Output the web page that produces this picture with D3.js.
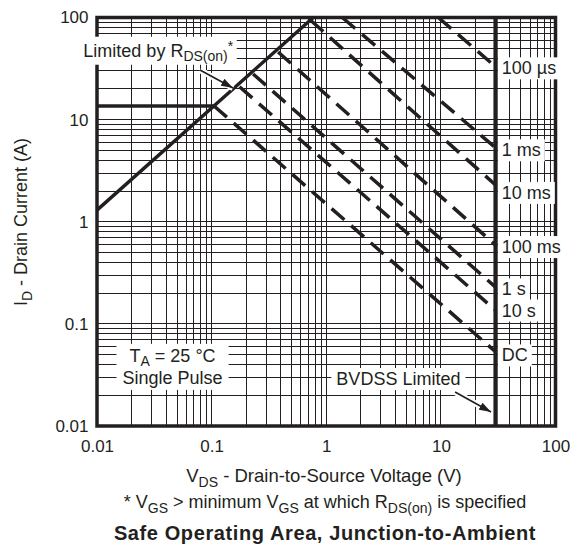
<!DOCTYPE html>
<html>
<head>
<meta charset="utf-8">
<script src="https://d3js.org/d3.v7.min.js"></script>
<style>
  body { margin: 0; background: #fff; }
  text { font-family: "Liberation Sans", Arial, Helvetica, sans-serif; fill: #231f20; }
</style>
</head>
<body>
<svg id="soa" width="571" height="546"></svg>
<script>
// axis ticks
const xTicks = [0.01, 0.1, 1, 10, 100];
const yTicks = [0.01, 0.1, 1, 10, 100];
const xTickLabels = ["0.01", "0.1", "1", "10", "100"];
const yTickLabels = ["0.01", "0.1", "1", "10", "100"];

// limits
const rdsV = [0.01, 0.77];        // Rds(on) limit line
const rdsI = [1.3, 100];
const currentV = [0.01, 0.105];   // package current limit
const currentI = [13.6, 13.6];
const bvdss = 30;

// single pulse curves: start on Rds(on) line (or top), end on BVDSS line
const pulseNames = ["100 µs", "1 ms", "10 ms", "100 ms", "1 s", "10 s", "DC"];
const pulseStartV = [9.5, 1.38, 0.73, 0.38, 0.23, 0.175, 0.105];
const pulseStartI = [100, 100, 94, 46, 28, 21, 13.6];
const pulseEndI = [33, 5.3, 2.29, 0.59, 0.229, 0.136, 0.0533];
const pulseLabelI = [32, 5.04, 1.93, 0.569, 0.219, 0.136, 0.0494];
const pulseLabelV = 34;

const ink = "#231f20";
const svg = d3.select("#soa");

const x = d3.scaleLog().domain([0.01, 100]).range([97, 555.5]);
const y = d3.scaleLog().domain([0.01, 100]).range([426, 17.5]);

// grid
const grid = svg.append("g").attr("shape-rendering", "crispEdges");
grid.selectAll("line.v").data(x.ticks()).join("line")
    .attr("class", "v")
    .attr("x1", d => x(d)).attr("x2", d => x(d))
    .attr("y1", y(0.01)).attr("y2", y(100))
    .attr("stroke", ink).attr("stroke-width", 1);
grid.selectAll("line.h").data(y.ticks()).join("line")
    .attr("class", "h")
    .attr("y1", d => y(d)).attr("y2", d => y(d))
    .attr("x1", x(0.01)).attr("x2", x(100))
    .attr("stroke", ink).attr("stroke-width", 1);

// frame
svg.append("rect")
    .attr("x", x(0.01)).attr("y", y(100))
    .attr("width", x(100) - x(0.01)).attr("height", y(0.01) - y(100))
    .attr("fill", "none").attr("stroke", ink).attr("stroke-width", 3.5);

// axes
svg.append("g")
    .attr("transform", `translate(${x(0.01)},0)`)
    .call(d3.axisLeft(y).tickValues(yTicks).tickSize(0).tickPadding(8.5)
        .tickFormat((d, i) => yTickLabels[i]))
    .call(g => g.select(".domain").remove())
    .selectAll("text").attr("font-size", 17).attr("fill", ink)
    .attr("font-family", '"Liberation Sans", Arial, sans-serif');

svg.append("g")
    .attr("transform", `translate(0,${y(0.01)})`)
    .call(d3.axisBottom(x).tickValues(xTicks).tickSize(0).tickPadding(13.5)
        .tickFormat((d, i) => xTickLabels[i]))
    .call(g => g.select(".domain").remove())
    .selectAll("text").attr("font-size", 17).attr("fill", ink)
    .attr("font-family", '"Liberation Sans", Arial, sans-serif');

// text with sub / superscripts
function richText(parent, segs, size, subShift) {
    const t = parent.append("text").attr("font-size", size);
    let shift = 0;
    segs.forEach(([s, kind]) => {
        const target = kind === "sub" ? (subShift || 5) : kind === "sup" ? -6 : 0;
        t.append("tspan")
            .attr("dy", target - shift)
            .attr("font-size", kind ? Math.round(size * 0.78) : size)
            .text(s);
        shift = target;
    });
    return t;
}

// label with a white box behind it
function boxedLabel(lines, v, i, anchor, dyFirst, padX, padY, gap) {
    const g = svg.append("g").attr("transform", `translate(${x(v)},${y(i)})`);
    lines.forEach((segs, k) => {
        richText(g, segs, 18, 4).attr("y", dyFirst + k * (gap || 21)).attr("text-anchor", anchor);
    });
    const b = g.node().getBBox();
    g.insert("rect", ":first-child")
        .attr("x", b.x - padX).attr("y", b.y - padY)
        .attr("width", b.width + 2 * padX).attr("height", b.height + 2 * padY)
        .attr("fill", "#fff");
    return g;
}

boxedLabel([[["Limited by R", null], ["DS(on)", "sub"], ["*", "sup"]]], 0.0076, 41.3, "start", 0, 3, 1);
boxedLabel([[["T", null], ["A", "sub"], [" = 25 °C", null]], [["Single Pulse", null]]],
    0.0456, 0.042, "middle", -0.5, 6, 2, 22);
boxedLabel([[["BVDSS Limited", null]]], 4.26, 0.0252, "middle", 0, 5, 1);
pulseNames.forEach((name, k) => {
    boxedLabel([[[name, null]]], pulseLabelV, pulseLabelI[k], "start", 6.3, 4, 1);
});

// limit lines
const line = d3.line().x(d => x(d[0])).y(d => y(d[1]));

svg.append("path")
    .attr("d", line(rdsV.map((v, k) => [v, rdsI[k]])))
    .attr("fill", "none").attr("stroke", ink).attr("stroke-width", 3.4);
svg.append("path")
    .attr("d", line(currentV.map((v, k) => [v, currentI[k]])))
    .attr("fill", "none").attr("stroke", ink).attr("stroke-width", 3.4);
svg.append("path")
    .attr("d", line([[bvdss, 0.01], [bvdss, 100]]))
    .attr("fill", "none").attr("stroke", ink).attr("stroke-width", 4.3);

svg.append("g").selectAll("path")
    .data(pulseNames.map((n, k) => [[pulseStartV[k], pulseStartI[k]], [bvdss, pulseEndI[k]]]))
    .join("path")
    .attr("d", line)
    .attr("fill", "none").attr("stroke", ink).attr("stroke-width", 3.5)
    .attr("stroke-dasharray", "17,9");

// arrows
svg.append("defs").append("marker")
    .attr("id", "head").attr("viewBox", "0 0 12 8")
    .attr("refX", 12).attr("refY", 4)
    .attr("markerWidth", 12).attr("markerHeight", 8)
    .attr("markerUnits", "userSpaceOnUse").attr("orient", "auto")
    .append("path").attr("d", "M0,0L12,4L0,8Z").attr("fill", ink);

const arrows = [
    [[0.0792, 30.6], [0.1537, 20.4]],
    [[13.3, 0.0215], [27.4, 0.0137]]
];
arrows.forEach(a => {
    svg.append("path").attr("d", line(a))
        .attr("stroke", "#fff").attr("stroke-width", 6).attr("fill", "none");
    svg.append("path").attr("d", line(a))
        .attr("stroke", ink).attr("stroke-width", 1.6).attr("fill", "none")
        .attr("marker-end", "url(#head)");
});

// axis titles
const yTitle = svg.append("g").attr("transform", "translate(27,222) rotate(-90)");
richText(yTitle, [["I", null], ["D", "sub"], [" - Drain Current (A)", null]], 18)
    .attr("text-anchor", "middle");

const xTitle = svg.append("g").attr("transform", "translate(324,482)");
richText(xTitle, [["V", null], ["DS", "sub"], [" - Drain-to-Source Voltage (V)", null]], 18.5)
    .attr("text-anchor", "middle");

const note = svg.append("g").attr("transform", "translate(325,508)");
richText(note, [["* V", null], ["GS", "sub"], [" > minimum V", null], ["GS", "sub"],
    [" at which R", null], ["DS(on)", "sub"], [" is specified", null]], 18)
    .attr("text-anchor", "middle");

svg.append("text")
    .attr("x", 325).attr("y", 540)
    .attr("text-anchor", "middle")
    .attr("font-size", 20).attr("font-weight", "bold")
    .attr("letter-spacing", 0.6)
    .text("Safe Operating Area, Junction-to-Ambient");
</script>
</body>
</html>
